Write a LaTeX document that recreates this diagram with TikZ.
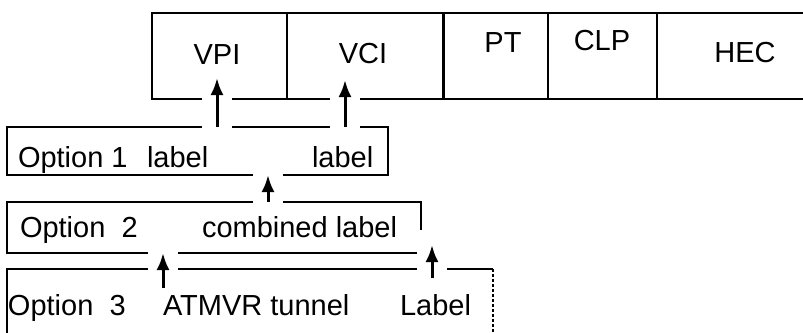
\documentclass[tikz,border=0pt]{standalone}
\usepackage{fontspec}
\setmainfont{Liberation Sans}
\usetikzlibrary{positioning,arrows.meta}

\begin{document}
\begin{tikzpicture}[x=1pt,y=-1pt,
    every node/.style={font=\fontsize{29}{32}\selectfont,inner sep=0pt,outer sep=0pt},
    cell/.style={draw,line width=1.2pt,minimum height=86pt},
    optbox/.style={draw,line width=1.2pt,anchor=north west},
    up/.style={line width=3pt,-{Latex[length=17pt,width=13pt]},
      preaction={draw=white,line width=30pt,line cap=rect,arrows=-}}]
  \useasboundingbox (0,0) rectangle (803,332);
  % cell header
  \node[cell,minimum width=135pt] (c1) at (219.5,56) {};
  \node[cell,minimum width=156pt,right=0pt of c1] (c2) {};
  \node[cell,minimum width=105pt,right=0pt of c2] (c3) {};
  \node[cell,minimum width=109pt,right=0pt of c3] (c4) {};
  \node[cell,minimum width=170pt,right=0pt of c4] (c5) {};
  \draw[line width=3pt] (c3.north west) -- (c3.south west);
  % the three options
  \node[optbox,minimum width=381pt,minimum height=48pt] (o1) at (7,127) {};
  \node[optbox,minimum width=414pt,minimum height=51pt] (o2) at (7,202) {};
  \node[anchor=north west,minimum width=486pt,minimum height=90pt] (o3) at (7,269) {};
  \draw[line width=1.2pt] (o3.south west) -- (o3.north west) -- (o3.north east);
  \draw[line width=1.2pt,densely dashed] (o3.north east) -- (o3.south east);
  % arrows
  \coordinate (p1) at (217,78);
  \coordinate (p2) at (345,80);
  \coordinate (p3) at (268,190);
  \coordinate (q1) at (163,288);
  \coordinate (q2) at (432,278);
  \coordinate (q2t) at (432,245);
  \draw[up] (o1.north -| p1) -- (p1);
  \draw[up] (o1.north -| p2) -- (p2);
  \draw[up] (o2.north -| p3) -- (o1.south -| p3);
  \draw[up] (q1) -- (o2.south -| q1);
  \draw[up] (q2) -- (q2t);
  % texts
  \node (vpi) at (217,55) {VPI};
  \node (vci) at (363,54) {VCI};
  \node (pt) at (503,43) {PT};
  \node (clp) at (602,41) {CLP};
  \node (hec) at (745,53) {HEC};
  \node[anchor=base west] (t1) at (18,167) {Option 1};
  \node[anchor=base west] (l1) at (147,167) {label};
  \node[anchor=base west] (l2) at (312,167) {label};
  \node[anchor=base west] (t2) at (20,237) {Option\ \ 2};
  \node[anchor=base west] (l3) at (202,237) {combined label};
  \node[anchor=base west] (t3) at (8,315) {Option\ \ 3};
  \node[anchor=base west] (l4) at (163,315) {ATMVR tunnel};
  \node[anchor=base west] (l5) at (400,315) {Label};
\end{tikzpicture}
\end{document}
